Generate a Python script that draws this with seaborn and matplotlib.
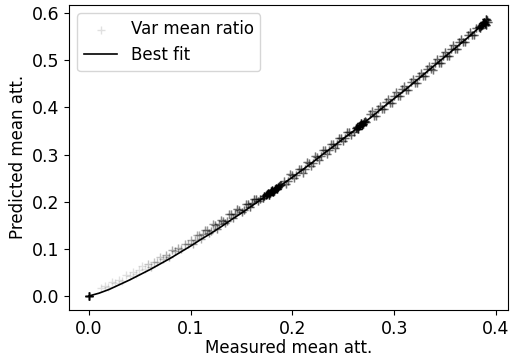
import numpy as np
import pandas as pd
import matplotlib
matplotlib.use('Agg')
import matplotlib.pyplot as plt
import seaborn as sns

# measured vs predicted mean attenuation.
# each region has x, y and how many markers are stacked on each spot

# pile of points at the origin
orig_x = [0.0]
orig_y = [0.0]
orig_n = [30]

# sparse band, x < 0.17 (sits a little above the fit)
low_x = [0.012, 0.016, 0.019, 0.023, 0.026, 0.030, 0.033, 0.037, 0.040, 0.043,
         0.046, 0.049, 0.052, 0.055, 0.058, 0.061, 0.064, 0.067, 0.070, 0.073,
         0.076, 0.079, 0.082, 0.085, 0.088, 0.091, 0.094, 0.097, 0.100, 0.102,
         0.104, 0.106, 0.108, 0.110, 0.112, 0.114, 0.116, 0.118, 0.120, 0.122,
         0.124, 0.126, 0.128, 0.130, 0.132, 0.134, 0.136, 0.138, 0.140, 0.142,
         0.144, 0.146, 0.148, 0.150, 0.152, 0.154, 0.156, 0.158, 0.160, 0.162,
         0.164, 0.166, 0.168]
low_y = [0.016, 0.021, 0.019, 0.029, 0.027, 0.035, 0.032, 0.044, 0.042, 0.051,
         0.046, 0.055, 0.063, 0.058, 0.067, 0.062, 0.073, 0.073, 0.083, 0.079,
         0.087, 0.083, 0.097, 0.096, 0.102, 0.100, 0.111, 0.110, 0.118, 0.111,
         0.118, 0.130, 0.130, 0.121, 0.131, 0.141, 0.139, 0.133, 0.138, 0.153,
         0.151, 0.143, 0.153, 0.162, 0.160, 0.155, 0.160, 0.174, 0.173, 0.166,
         0.174, 0.184, 0.182, 0.178, 0.183, 0.195, 0.195, 0.189, 0.197, 0.206,
         0.205, 0.202, 0.206]
low_n = [1, 1, 1, 1, 1, 1, 1, 1, 1, 1,
         1, 1, 1, 1, 2, 2, 2, 2, 2, 2,
         3, 3, 3, 3, 3, 3, 3, 3, 3, 3,
         3, 3, 3, 3, 4, 4, 4, 4, 4, 4,
         5, 5, 5, 5, 5, 5, 5, 5, 5, 5,
         6, 6, 6, 6, 6, 6, 7, 7, 7, 7,
         7, 7, 7]

# between the clusters, 0.19 - 0.26
mid_x = [0.192, 0.194, 0.196, 0.198, 0.200, 0.202, 0.204, 0.206, 0.208, 0.210,
         0.212, 0.214, 0.216, 0.218, 0.220, 0.222, 0.224, 0.226, 0.228, 0.230,
         0.232, 0.234, 0.236, 0.238, 0.240, 0.242, 0.244, 0.246, 0.248, 0.250,
         0.252, 0.254, 0.256, 0.258, 0.260]
mid_y = [0.243, 0.237, 0.244, 0.258, 0.257, 0.251, 0.257, 0.270, 0.270, 0.262,
         0.270, 0.284, 0.282, 0.276, 0.283, 0.296, 0.295, 0.288, 0.296, 0.310,
         0.309, 0.302, 0.309, 0.322, 0.322, 0.314, 0.322, 0.336, 0.335, 0.329,
         0.336, 0.348, 0.348, 0.341, 0.349]
mid_n = [6] * 25 + [7] * 10

# between the clusters, 0.275 - 0.38
high_x = [0.276, 0.278, 0.280, 0.282, 0.284, 0.286, 0.288, 0.290, 0.292, 0.294,
          0.296, 0.298, 0.300, 0.302, 0.304, 0.306, 0.308, 0.310, 0.312, 0.314,
          0.316, 0.318, 0.320, 0.322, 0.324, 0.326, 0.328, 0.330, 0.332, 0.334,
          0.336, 0.338, 0.340, 0.342, 0.344, 0.346, 0.348, 0.350, 0.352, 0.354,
          0.356, 0.358, 0.360, 0.362, 0.364, 0.366, 0.368, 0.370, 0.372, 0.374,
          0.376, 0.378, 0.380]
high_y = [0.386, 0.392, 0.382, 0.382, 0.397, 0.404, 0.396, 0.396, 0.411, 0.418,
          0.410, 0.410, 0.425, 0.432, 0.424, 0.424, 0.439, 0.446, 0.438, 0.438,
          0.453, 0.460, 0.452, 0.452, 0.467, 0.474, 0.466, 0.466, 0.481, 0.488,
          0.481, 0.480, 0.495, 0.502, 0.495, 0.495, 0.510, 0.517, 0.510, 0.509,
          0.525, 0.532, 0.525, 0.524, 0.539, 0.546, 0.539, 0.538, 0.554, 0.561,
          0.554, 0.553, 0.568]
high_n = [6] * 32 + [7] * 21

# the three dense clusters
clus_x = [0.171, 0.172, 0.174, 0.175, 0.176, 0.177, 0.178, 0.179, 0.180, 0.181,
          0.182, 0.183, 0.184, 0.185, 0.186, 0.187, 0.188, 0.189,
          0.262, 0.263, 0.264, 0.265, 0.266, 0.267, 0.268, 0.269, 0.270, 0.271,
          0.272,
          0.383, 0.384, 0.385, 0.386, 0.387, 0.388, 0.389, 0.390, 0.390, 0.391,
          0.392]
clus_y = [0.207, 0.212, 0.214, 0.216, 0.219, 0.215, 0.218, 0.222, 0.224, 0.221,
          0.223, 0.228, 0.229, 0.227, 0.231, 0.233, 0.236, 0.235,
          0.356, 0.358, 0.355, 0.360, 0.363, 0.366, 0.362, 0.364, 0.370, 0.372,
          0.369,
          0.570, 0.568, 0.572, 0.576, 0.579, 0.582, 0.578, 0.588, 0.574, 0.586,
          0.582]
clus_n = [10, 12, 12, 14, 14, 16, 16, 16, 16, 16,
          16, 16, 16, 14, 14, 12, 10, 8,
          12, 12, 14, 14, 16, 16, 16, 14, 12, 10,
          8,
          12, 12, 14, 14, 16, 16, 16, 14, 12, 10,
          8]

# best fit curve as drawn in the reference
fit_x = [0.0, 0.01, 0.02, 0.03, 0.04, 0.05, 0.06, 0.07, 0.08, 0.09,
         0.10, 0.11, 0.12, 0.13, 0.14, 0.15, 0.16, 0.17, 0.18, 0.19,
         0.20, 0.21, 0.22, 0.23, 0.24, 0.25, 0.26, 0.27, 0.28, 0.29,
         0.30, 0.31, 0.32, 0.33, 0.34, 0.35, 0.36, 0.37, 0.38, 0.39]
fit_y = [0.0, 0.006, 0.014, 0.024, 0.034, 0.045, 0.056, 0.068, 0.080, 0.093,
         0.106, 0.120, 0.133, 0.147, 0.162, 0.176, 0.191, 0.206, 0.221, 0.237,
         0.252, 0.268, 0.284, 0.301, 0.317, 0.334, 0.350, 0.367, 0.384, 0.402,
         0.419, 0.436, 0.454, 0.472, 0.490, 0.508, 0.526, 0.544, 0.563, 0.582]

all_x = orig_x + low_x + mid_x + high_x + clus_x
all_y = orig_y + low_y + mid_y + high_y + clus_y
all_n = orig_n + low_n + mid_n + high_n + clus_n

pts_df = pd.DataFrame({
    'measured': np.repeat(all_x, all_n),
    'predicted': np.repeat(all_y, all_n),
})
fit_df = pd.DataFrame({'measured': fit_x, 'predicted': fit_y})

plt.rcParams['font.size'] = 12

fig, ax = plt.subplots(figsize=(5.14, 3.57), dpi=100)
fig.subplots_adjust(left=0.134, right=0.988, top=0.986, bottom=0.132)

sns.scatterplot(x='measured', y='predicted', data=pts_df, marker='+',
                color='black', alpha=0.12, s=40, linewidth=1,
                label='Var mean ratio', ax=ax)
sns.lineplot(x='measured', y='predicted', data=fit_df, color='black',
             linewidth=1.2, label='Best fit', ax=ax)

ax.set_xlabel('Measured mean att.', labelpad=1)
ax.set_ylabel('Predicted mean att.', labelpad=3)
ax.tick_params(labelsize=12.5)
ax.legend(loc='upper left')

fig.savefig('out.png', dpi=100)
